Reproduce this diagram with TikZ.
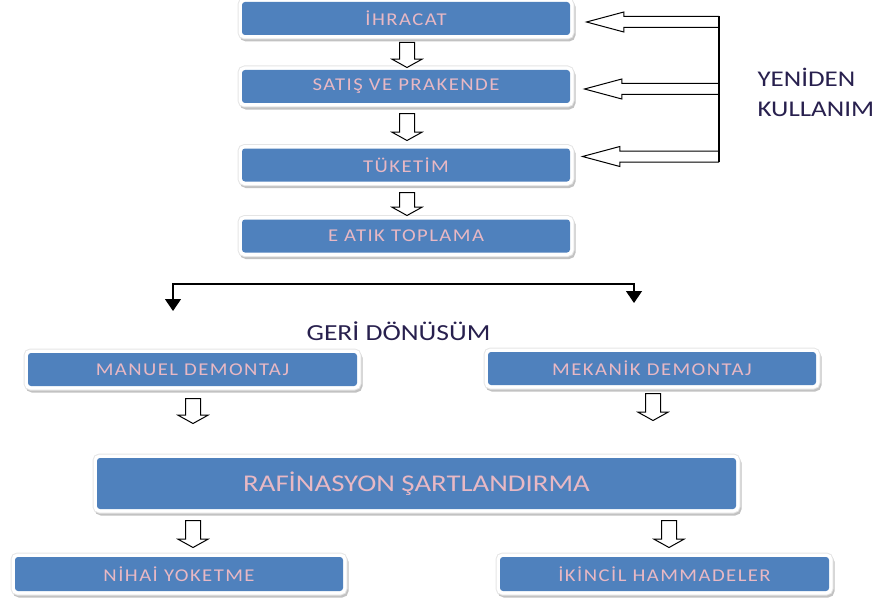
\documentclass[tikz,border=0pt]{standalone}
\usepackage{fontspec}
\setmainfont{Carlito}
\newfontfamily\boxfont[FakeStretch=1.15, LetterSpace=8]{Carlito}
\newfontfamily\bigfont[FakeStretch=1.2]{Carlito}
\usetikzlibrary{shapes.arrows, calc, arrows.meta}
\definecolor{boxblue}{RGB}{79,129,189}
\definecolor{boxtext}{RGB}{232,184,196}
\definecolor{labeltext}{RGB}{40,32,78}
\begin{document}
\begin{tikzpicture}[x=1pt,y=-1pt,
  box/.style={fill=boxblue, rounded corners=3pt, inner sep=0pt, text=boxtext,
    font=\boxfont\fontsize{18}{20}\selectfont,
    minimum width=328pt, minimum height=33pt,
    preaction={draw=black!24, line width=8pt, transform canvas={xshift=1.5pt, yshift=-2.5pt}},
    preaction={draw=black!10, line width=9pt},
    preaction={draw=white, line width=7pt}},
  downarrow/.style={single arrow, draw=black, fill=white, line width=1pt,
    inner xsep=0pt, inner ysep=7pt, single arrow head extend=7.5pt,
    single arrow tip angle=122, minimum height=25pt, rotate=-90, anchor=tail},
  leftarrow/.style={single arrow, draw=black, fill=white, line width=1pt,
    inner xsep=0pt, inner ysep=5pt, single arrow head extend=4.5pt,
    single arrow tip angle=30, rotate=180, anchor=tail},
  flowline/.style={line width=1.3pt, draw=black},
  tri/.tip={Triangle[width=16pt,length=12pt]},
  label/.style={text=labeltext, font=\bigfont\fontsize{23}{30}\selectfont}
]
\useasboundingbox (0,0) rectangle (882,607);

% top chain
\node[box] (ihr) at (406,18.5) {İHRACAT};
\node[box] (sat) at (406,86.5) {SATIŞ VE PRAKENDE};
\node[box] (tuk) at (406,165) {TÜKETİM};
\node[box] (eat) at (406,236) {E ATIK TOPLAMA};

\node[downarrow] (d1) at (407,42) {};
\node[downarrow, minimum height=27pt] (d2) at (407,113) {};
\node[downarrow, minimum height=23pt] (d3) at (407,192) {};

% reuse arrows
\node[leftarrow, minimum height=132pt] (r1) at (719,22) {};
\node[leftarrow, minimum height=134pt] (r2) at (719,89) {};
\node[leftarrow, minimum height=136pt] (r3) at (719,156.5) {};
\draw[flowline] ($(r1.tail)+(0,-5.5)$) -- ($(r3.tail)+(0,5.5)$);
\node[label, anchor=west, align=left, font=\bigfont\fontsize{22.5}{30}\selectfont] (yen) at (754,92.5) {YENİDEN\\KULLANIM};

% split
\coordinate (tl) at (173,311);
\coordinate (cl) at (173,284);
\coordinate (cr) at (634,284);
\coordinate (tr) at (634,303);
\draw[flowline, tri-tri] (tl) -- (cl) -- (cr) -- (tr);
\node[label] (geri) at (398.5,331) {GERİ DÖNÜSÜM};

% recycling
\node[box, minimum width=329pt] (man) at (192.5,369.5) {MANUEL DEMONTAJ};
\node[box] (mek) at (652,368.5) {MEKANİK DEMONTAJ};
\node[box, minimum width=639pt, minimum height=51pt,
      font=\bigfont\fontsize{24}{26}\selectfont] (raf) at (416.5,483.5) {RAFİNASYON ŞARTLANDIRMA};
\node[downarrow] (d4) at (193,398) {};
\node[downarrow, minimum height=27pt] (d5) at (653,393) {};
\node[box, minimum height=34pt] (nih) at (179,574) {NİHAİ YOKETME};
\node[box, minimum width=329pt, minimum height=34pt] (ikn) at (664.5,574) {İKİNCİL HAMMADELER};
\node[downarrow, minimum height=27pt] (d6) at (193,520) {};
\node[downarrow, minimum height=27pt] (d7) at (669,520) {};
\end{tikzpicture}
\end{document}
